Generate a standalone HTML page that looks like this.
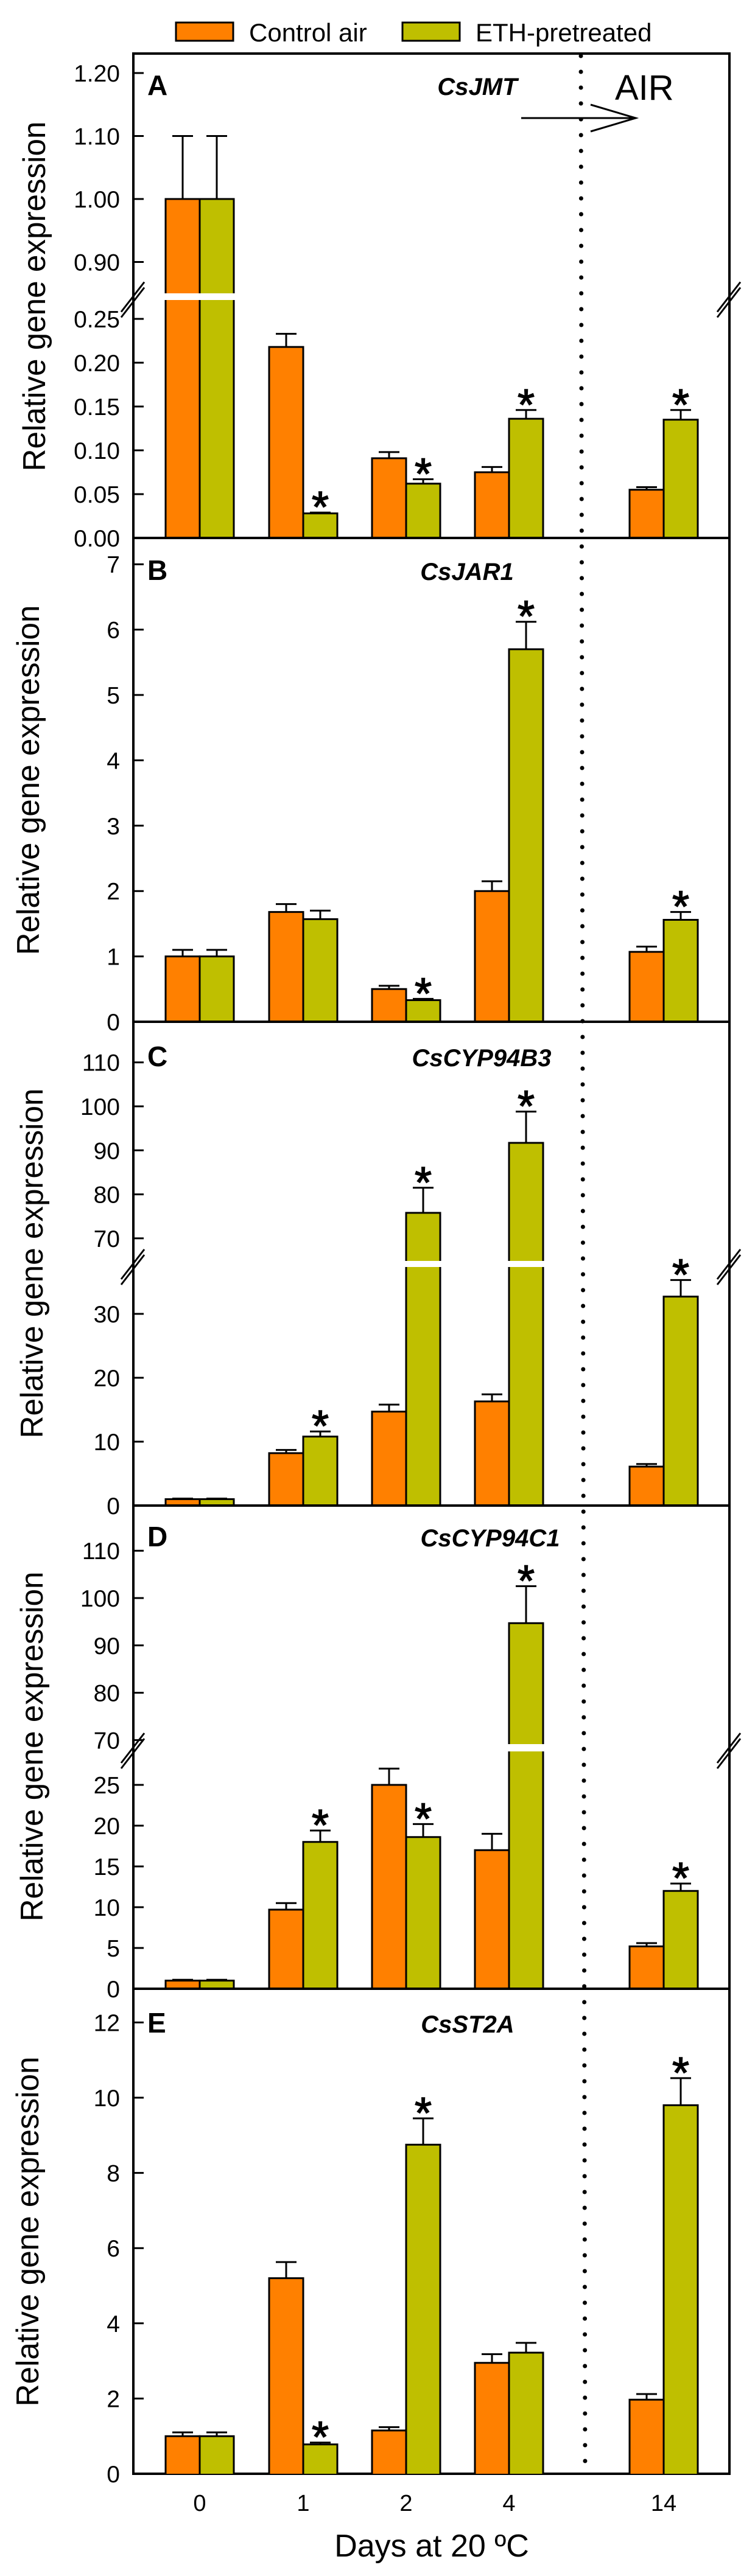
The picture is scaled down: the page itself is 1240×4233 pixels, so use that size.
<!DOCTYPE html>
<html><head><meta charset="utf-8"><style>
html,body{margin:0;padding:0;background:#fff}
svg{display:block}
text{font-family:"Liberation Sans",Arial,sans-serif;fill:#000}
</style></head><body>
<svg id="chart" width="1240" height="4233" viewBox="0 0 1240 4233" xmlns="http://www.w3.org/2000/svg">
<g id="legend">
<rect x="289" y="37" width="94" height="30" fill="#FF8000" stroke="#000" stroke-width="3"/>
<text x="409" y="68" font-size="42">Control air</text>
<rect x="661" y="37" width="94" height="30" fill="#BFBF00" stroke="#000" stroke-width="3"/>
<text x="781" y="68" font-size="42">ETH-pretreated</text>
</g>
<g id="plots"></g>
<line x1="954" y1="92" x2="961" y2="4062" stroke="#000" stroke-width="7" stroke-linecap="round" stroke-dasharray="0 26"/>
<g>
<text x="1010" y="164" font-size="58">AIR</text>
<line x1="856" y1="194" x2="1042" y2="194" stroke="#000" stroke-width="3"/>
<polyline points="970,172 1044,194 970,216" fill="none" stroke="#000" stroke-width="3"/>
</g>
<text x="709" y="4201" font-size="52" text-anchor="middle">Days at 20 ºC</text>
</svg>
<script>
const categories = ["0", "1", "2", "4", "14"];
const groupCenters = [328, 498, 667, 836, 1090];

const aControl = [1.0, 0.218, 0.091, 0.075, 0.055];
const aControlErr = [0.1, 0.015, 0.007, 0.006, 0.003];
const aEth = [1.0, 0.028, 0.062, 0.136, 0.135];
const aEthErr = [0.1, 0.001, 0.005, 0.010, 0.011];
const aStars = [false, true, true, true, true];

const bControl = [1.0, 1.68, 0.5, 2.0, 1.07];
const bControlErr = [0.1, 0.12, 0.05, 0.15, 0.08];
const bEth = [1.0, 1.57, 0.33, 5.7, 1.56];
const bEthErr = [0.1, 0.13, 0.02, 0.42, 0.12];
const bStars = [false, false, true, true, true];

const cControl = [1.0, 8.2, 14.7, 16.3, 6.1];
const cControlErr = [0.1, 0.5, 1.1, 1.1, 0.4];
const cEth = [1.0, 10.8, 75.8, 91.7, 32.7];
const cEthErr = [0.1, 0.8, 5.7, 7.1, 2.6];
const cStars = [false, true, true, true, true];

const dControl = [1.0, 9.7, 25.0, 17.0, 5.2];
const dControlErr = [0.1, 0.8, 2.0, 2.0, 0.4];
const dEth = [1.0, 18.0, 18.6, 94.7, 12.0];
const dEthErr = [0.1, 1.4, 1.6, 7.8, 0.9];
const dStars = [false, true, true, true, true];

const eControl = [1.0, 5.2, 1.15, 2.95, 1.97];
const eControlErr = [0.1, 0.43, 0.09, 0.23, 0.15];
const eEth = [1.0, 0.78, 8.75, 3.22, 9.8];
const eEthErr = [0.1, 0.05, 0.7, 0.26, 0.72];
const eStars = [false, true, true, false, true];

const aTicksLower = [0, 0.05, 0.10, 0.15, 0.20, 0.25];
const aTicksUpper = [0.90, 1.00, 1.10, 1.20];
const bTicks = [0, 1, 2, 3, 4, 5, 6, 7];
const cTicksLower = [0, 10, 20, 30];
const cTicksUpper = [70, 80, 90, 100, 110];
const dTicksLower = [0, 5, 10, 15, 20, 25];
const dTicksUpper = [70, 80, 90, 100, 110];
const eTicks = [0, 2, 4, 6, 8, 10, 12];

const NS = "http://www.w3.org/2000/svg";
const plots = document.getElementById("plots");
const LEFT = 219, RIGHT = 1198, BW = 56;

function mk(tag, attrs, parent) {
  const e = document.createElementNS(NS, tag);
  for (const k in attrs) e.setAttribute(k, attrs[k]);
  parent.appendChild(e);
  return e;
}
function seg(v0, y0, k, yTop, yBot) {
  return { v0, y0, k, yTop, yBot, y: v => y0 - (v - v0) * k, vTop: v0 + (y0 - yTop) / k, vBot: v0 + (y0 - yBot) / k };
}

function drawPanel(p) {
  const g = mk("g", {}, plots);
  
  
  const fr = mk("rect", { x: LEFT, y: p.top, width: RIGHT - LEFT, height: p.bottom - p.top, fill: "none", stroke: "#000", "stroke-width": 4 }, g);
  
  
  p.segs.forEach((s, si) => {
    p.ticks[si].forEach(t => {
      const y = s.y(t);
      const tk = mk("line", { x1: LEFT, x2: LEFT + 17, y1: y, y2: y, stroke: "#000", "stroke-width": 3 }, g);
      
      
      const lb = mk("text", { x: 197, y: y + 14, "font-size": 39, "text-anchor": "end" }, g);
      lb.textContent = p.fmt(t);
      
      
    });
  });
  groupCenters.forEach(c => {
    const t = mk("line", { x1: c + 26, x2: c + 26, y1: p.bottom, y2: p.bottom - 7, stroke: "#000", "stroke-width": 2 }, g);
    
    
  });
  const series = [[p.ctrl, p.ctrlErr, "#FF8000", -1, "control"], [p.eth, p.ethErr, "#BFBF00", 0, "eth"]];
  series.forEach(([vals, errs, col, off, nm]) => {
    vals.forEach((v, i) => {
      const x = groupCenters[i] + off * BW;
      p.segs.forEach(s => {
        if (v <= s.vBot) return;
        const vt = Math.min(v, s.vTop);
        const yt = s.y(vt), yb = s.yBot;
        const r = mk("rect", { x: x, y: yt, width: BW, height: yb - yt, fill: col }, g);
        
        
        mk("line", { x1: x, x2: x, y1: yt, y2: yb, stroke: "#000", "stroke-width": 3 }, g);
        mk("line", { x1: x + BW, x2: x + BW, y1: yt, y2: yb, stroke: "#000", "stroke-width": 3 }, g);
        if (v <= s.vTop) {
          mk("line", { x1: x - 1.5, x2: x + BW + 1.5, y1: yt, y2: yt, stroke: "#000", "stroke-width": 3 }, g);
          const cx = x + BW / 2, ye = s.y(v + errs[i]);
          const eb = mk("path", { d: `M${cx},${yt}V${ye}M${cx - 17},${ye}H${cx + 17}`, stroke: "#000", "stroke-width": 3, fill: "none" }, g);
          
          
          if (nm === "eth" && p.stars[i]) {
            const st = mk("text", { x: cx, y: ye + 16, "font-size": 72, "text-anchor": "middle", stroke: "#000", "stroke-width": 1.5 }, g);
            st.textContent = "*";
            
            
          }
        }
      });
    });
  });
  if (p.segs.length > 1) {
    const yb = (p.segs[0].yTop + p.segs[1].yBot) / 2;
    [LEFT, RIGHT].forEach(ax => {
      const b = mk("path", { d: `M${ax - 20},${yb + 25}L${ax + 18},${yb - 24}M${ax - 20},${yb + 34}L${ax + 18},${yb - 15}`, stroke: "#000", "stroke-width": 3, fill: "none" }, g);
      
      
    });
  }
  const L = mk("text", { x: 242, y: p.letterY, "font-size": 46, "font-weight": "bold" }, g);
  L.textContent = p.id;
  
  
  const G = mk("text", { x: p.geneX, y: p.letterY, "font-size": 40, "font-weight": "bold", "font-style": "italic", "text-anchor": "middle" }, g);
  G.textContent = p.gene;
  
  
  const T = mk("text", { transform: `translate(${p.titleX + 18},${p.titleY}) rotate(-90)`, "font-size": 52, "text-anchor": "middle", textLength: 575, lengthAdjust: "spacingAndGlyphs" }, g);
  T.textContent = "Relative gene expression";
  
  
}

const f2 = t => t.toFixed(2), f0 = t => String(t);
drawPanel({ id: "A", gene: "CsJMT", geneX: 784, letterY: 156, top: 88, bottom: 884, titleX: 56, titleY: 487,
  segs: [seg(0, 884, 1440, 493, 884), seg(1, 327, 1035, 88, 482)], ticks: [aTicksLower, aTicksUpper], fmt: f2,
  ctrl: aControl, ctrlErr: aControlErr, eth: aEth, ethErr: aEthErr, stars: aStars });
drawPanel({ id: "B", gene: "CsJAR1", geneX: 767, letterY: 953, top: 884, bottom: 1679, titleX: 46, titleY: 1282,
  segs: [seg(0, 1679, 107.4, 884, 1679)], ticks: [bTicks], fmt: f0,
  ctrl: bControl, ctrlErr: bControlErr, eth: bEth, ethErr: bEthErr, stars: bStars });
drawPanel({ id: "C", gene: "CsCYP94B3", geneX: 791, letterY: 1752, top: 1679, bottom: 2474, titleX: 52, titleY: 2076,
  segs: [seg(0, 2474, 10.5, 2082, 2474), seg(100, 1818, 7.23, 1679, 2072)], ticks: [cTicksLower, cTicksUpper], fmt: f0,
  ctrl: cControl, ctrlErr: cControlErr, eth: cEth, ethErr: cEthErr, stars: cStars });
drawPanel({ id: "D", gene: "CsCYP94C1", geneX: 805, letterY: 2541, top: 2474, bottom: 3268, titleX: 52, titleY: 2870,
  segs: [seg(0, 3268, 13.4, 2878, 3268), seg(100, 2626, 7.78, 2474, 2866)], ticks: [dTicksLower, dTicksUpper], fmt: f0,
  ctrl: dControl, ctrlErr: dControlErr, eth: dEth, ethErr: dEthErr, stars: dStars });
drawPanel({ id: "E", gene: "CsST2A", geneX: 768, letterY: 3340, top: 3268, bottom: 4065, titleX: 45, titleY: 3667,
  segs: [seg(0, 4065, 61.8, 3268, 4065)], ticks: [eTicks], fmt: f0,
  ctrl: eControl, ctrlErr: eControlErr, eth: eEth, ethErr: eEthErr, stars: eStars });

const xl = document.getElementById("chart");
categories.forEach((c, i) => {
  const t = mk("text", { x: groupCenters[i], y: 4126, "font-size": 38, "text-anchor": "middle" }, xl);
  t.textContent = c;
  
  
});
</script>
</body></html>
